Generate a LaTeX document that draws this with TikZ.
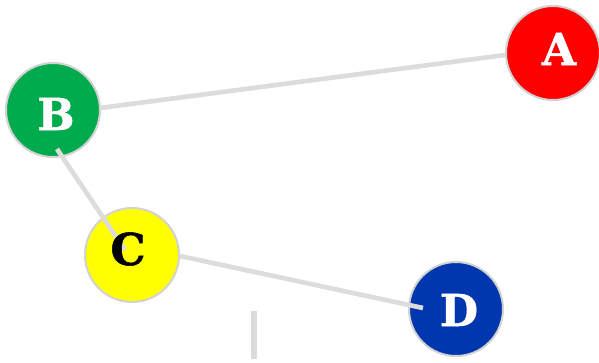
\documentclass[tikz,border=0pt]{standalone}
\usepackage{fontspec}
\newfontfamily\slabfont[BoldFeatures={FakeBold=1.2}]{DejaVu Serif}
\definecolor{redA}{HTML}{FF0000}
\definecolor{greenB}{HTML}{00AB4E}
\definecolor{yellowC}{HTML}{FFFF00}
\definecolor{blueD}{HTML}{0036AE}
\definecolor{linkgray}{HTML}{DCDCDC}
\definecolor{rimgray}{HTML}{D2D2D2}
\tikzset{
vertex/.style={shape=circle, draw=rimgray, line width=1.5pt, minimum size=70.5pt, inner sep=0pt},
link/.style={draw=linkgray, line width=3.5pt},
letter/.style={inner sep=0pt, font=\slabfont\bfseries\fontsize{33}{33}\selectfont}}

\begin{document}
\begin{tikzpicture}[x=0.75pt,y=-0.75pt]

                \useasboundingbox (0,0) rectangle (599,362);
                \clip (0,0) rectangle (599,362);

                \node[vertex, fill=redA] (A) at (553,53) {};
                \node[vertex, fill=greenB] (B) at (53,110) {};
                \node[vertex, fill=yellowC] (C) at (132,255) {};
                \node[vertex, fill=blueD] (D) at (456,309) {};

                \draw[link] ([shift={(47,-2)}]B.center) -- ([shift={(-48,2)}]A.center);
                \draw[link] ([shift={(4,39)}]B.center) -- ([shift={(-7,-5)}]C.center);
                \draw[link] ([shift={(48,1)}]C.center) -- ([shift={(-33,-1)}]D.center);

                \coordinate (tickTop) at (254,311);
                \coordinate (tickBot) at (254,359);
                \draw[link, line width=4.8pt] (tickTop) -- (tickBot);

                \node[letter, text=white] (labelA) at (559,49) {A};
                \node[letter, text=white] (labelB) at (56,114) {B};
                \node[letter, text=black] (labelC) at (128,249) {C};
                \node[letter, text=white] (labelD) at (459,310) {D};

\end{tikzpicture}
\end{document}
